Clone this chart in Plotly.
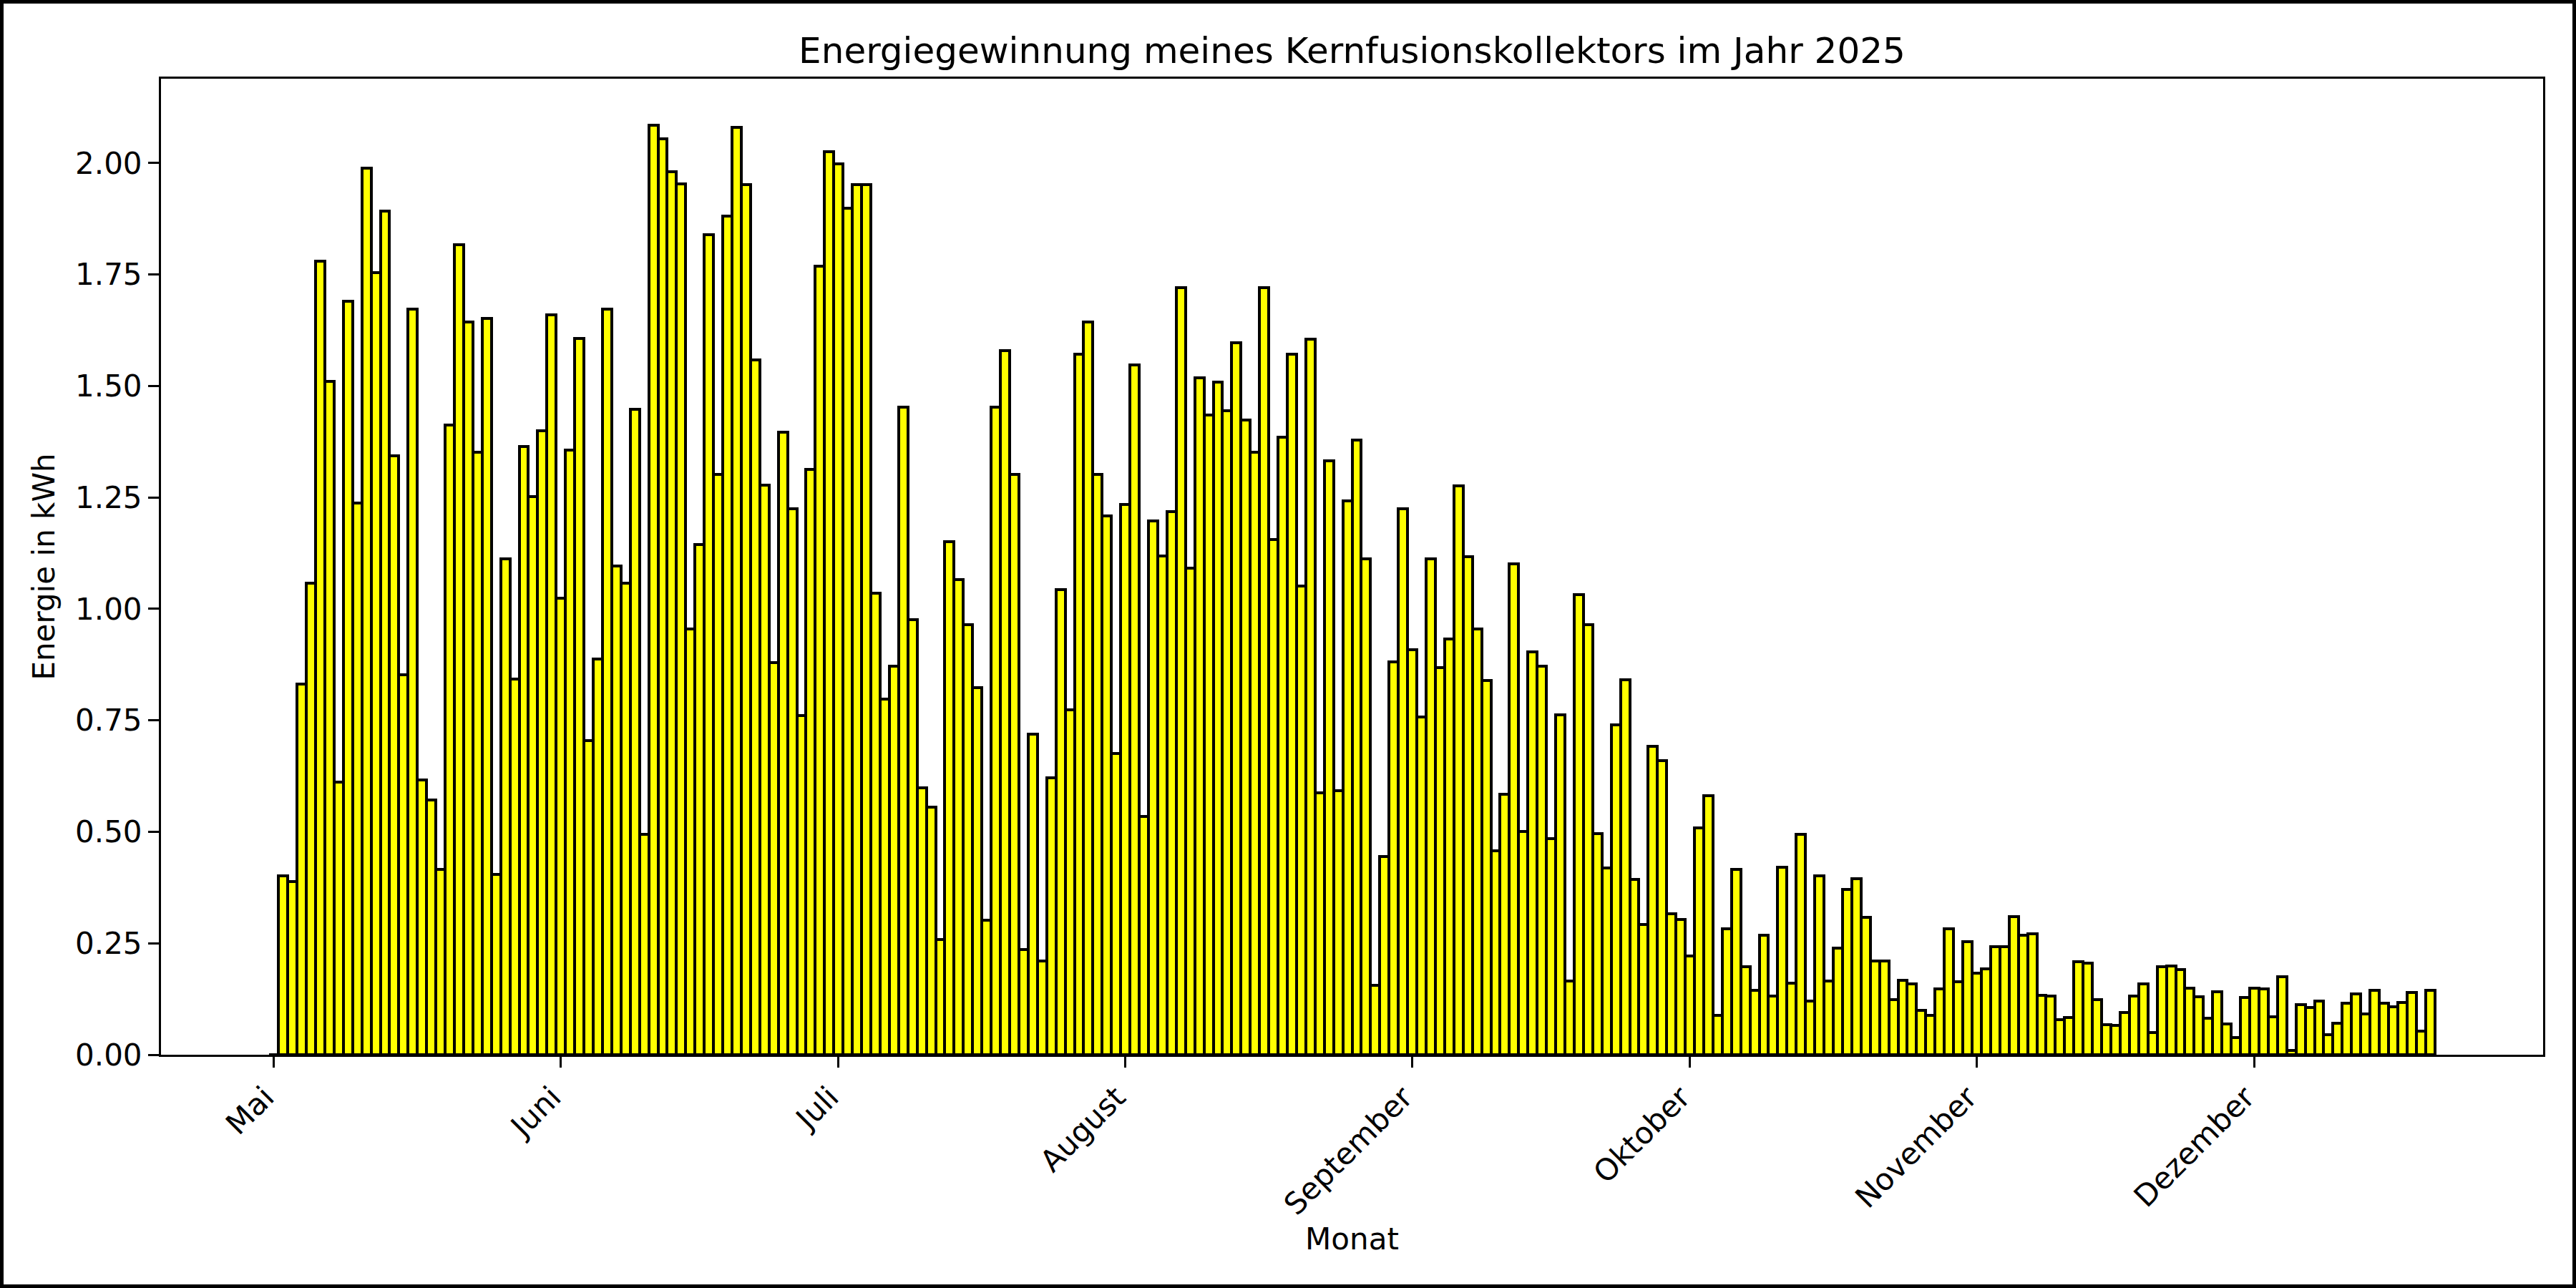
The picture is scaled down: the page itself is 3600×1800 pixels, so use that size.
import pandas as pd
import plotly.graph_objects as go

# Daily energy values (kWh)
mai = [0.0, 0.401, 0.388, 0.831, 1.057, 1.78, 1.51, 0.612, 1.69, 1.237, 1.989, 1.755, 1.892, 1.344, 0.853,
       1.673, 0.616, 0.572, 0.415, 1.412, 1.817, 1.643, 1.352, 1.651, 0.405, 1.112, 0.843, 1.364, 1.252, 1.40, 1.66]
juni = [1.024, 1.357, 1.607, 0.704, 0.887, 1.672, 1.097, 1.057, 1.447, 0.495, 2.085, 2.055, 1.981, 1.953, 0.955,
        1.145, 1.84, 1.301, 1.881, 2.08, 1.952, 1.559, 1.277, 0.879, 1.397, 1.225, 0.761, 1.313, 1.769, 2.025]
juli = [1.999, 1.899, 1.952, 1.952, 1.035, 0.797, 0.872, 1.453, 0.976, 0.599, 0.555, 0.259, 1.151, 1.065, 0.964,
        0.823, 0.301, 1.453, 1.58, 1.301, 0.236, 0.719, 0.211, 0.621, 1.043, 0.773, 1.572, 1.643, 1.301, 1.208, 0.675]
august = [1.235, 1.548, 0.535, 1.197, 1.119, 1.219, 1.72, 1.092, 1.519, 1.435, 1.508, 1.445, 1.597, 1.423, 1.351,
          1.721, 1.156, 1.385, 1.572, 1.052, 1.605, 0.588, 1.332, 0.592, 1.243, 1.379, 1.112, 0.155, 0.445, 0.881, 1.224]
september = [0.908, 0.757, 1.113, 0.868, 0.933, 1.276, 1.117, 0.955, 0.839, 0.457, 0.584, 1.101, 0.501, 0.904, 0.871,
             0.484, 0.763, 0.165, 1.032, 0.965, 0.496, 0.419, 0.74, 0.841, 0.393, 0.292, 0.692, 0.659, 0.316, 0.304]
oktober = [0.221, 0.508, 0.581, 0.089, 0.283, 0.415, 0.197, 0.144, 0.268, 0.131, 0.421, 0.160, 0.495, 0.121, 0.401,
           0.165, 0.239, 0.371, 0.395, 0.308, 0.211, 0.211, 0.124, 0.167, 0.159, 0.099, 0.089, 0.148, 0.283, 0.164, 0.253]
november = [0.183, 0.192, 0.242, 0.242, 0.309, 0.268, 0.271, 0.134, 0.131, 0.079, 0.084, 0.209, 0.206, 0.124, 0.068,
            0.066, 0.095, 0.131, 0.159, 0.049, 0.197, 0.199, 0.191, 0.149, 0.130, 0.082, 0.142, 0.069, 0.038, 0.128]
dezember = [0.149, 0.148, 0.085, 0.175, 0.0095, 0.112, 0.106, 0.121, 0.045, 0.071, 0.115, 0.137, 0.092, 0.145, 0.115,
            0.108, 0.117, 0.139, 0.053, 0.145]

start_date = "2025-05-01"
month_starts = ["2025-05-01", "2025-06-01", "2025-07-01", "2025-08-01",
                "2025-09-01", "2025-10-01", "2025-11-01", "2025-12-01"]
month_labels = ["Mai", "Juni", "Juli", "August", "September", "Oktober", "November", "Dezember"]

values = mai + juni + juli + august + september + oktober + november + dezember
dates = pd.date_range(start_date, periods=len(values), freq="D")

W, H = 3600, 1800
L, R, T, B = 225, 46, 110, 326
pw, ph = W - L - R, H - T - B
FONT = "DejaVu Sans"

day = pd.Timedelta(days=1)
lo = dates[0] - day / 2
hi = dates[-1] + day / 2
pad = (hi - lo) * 0.05
xrange = [lo - pad, hi + pad]
yrange = [0, max(values) * 1.05]

fig = go.Figure(go.Bar(
    x=dates, y=values, width=86400000,
    marker=dict(color="#ffff00", line=dict(color="black", width=4)),
))

axis_common = dict(
    showline=True, linecolor="black", linewidth=3, mirror=True,
    ticks="outside", ticklen=15, tickwidth=3, tickcolor="black",
    showgrid=False, zeroline=False,
    tickfont=dict(family=FONT, size=42, color="black"),
)

fig.update_layout(
    width=W, height=H,
    margin=dict(l=L, r=R, t=T, b=B, autoexpand=False),
    paper_bgcolor="white", plot_bgcolor="white",
    bargap=0,
    showlegend=False,
    title=dict(text="Energiegewinnung meines Kernfusionskollektors im Jahr 2025",
               x=0.5, xref="paper", xanchor="center",
               y=1 - 70 / H, yref="container", yanchor="middle",
               font=dict(family=FONT, size=50, color="black")),
    xaxis=dict(axis_common, type="date", range=xrange,
               tickmode="array", tickvals=month_starts, ticktext=month_labels,
               tickangle=-45, ticklabelshift=-12,
               title=dict(text="Monat", standoff=10,
                          font=dict(family=FONT, size=42, color="black"))),
    yaxis=dict(axis_common, range=yrange, tickmode="linear", tick0=0, dtick=0.25,
               tickformat=".2f",
               title=dict(text="Energie in kWh", standoff=16,
                          font=dict(family=FONT, size=42, color="black"))),
    shapes=[dict(type="rect", xref="paper", yref="paper",
                 x0=(2.5 - L) / pw, x1=(W - 2.5 - L) / pw,
                 y0=-(H - 2.5 - T - ph) / ph, y1=1 + (T - 2.5) / ph,
                 line=dict(color="black", width=5), fillcolor="rgba(0,0,0,0)")],
)

fig.write_html("out.html",
               config={"displayModeBar": False},
               post_script="document.body.style.margin='0';document.body.style.overflow='hidden';")
